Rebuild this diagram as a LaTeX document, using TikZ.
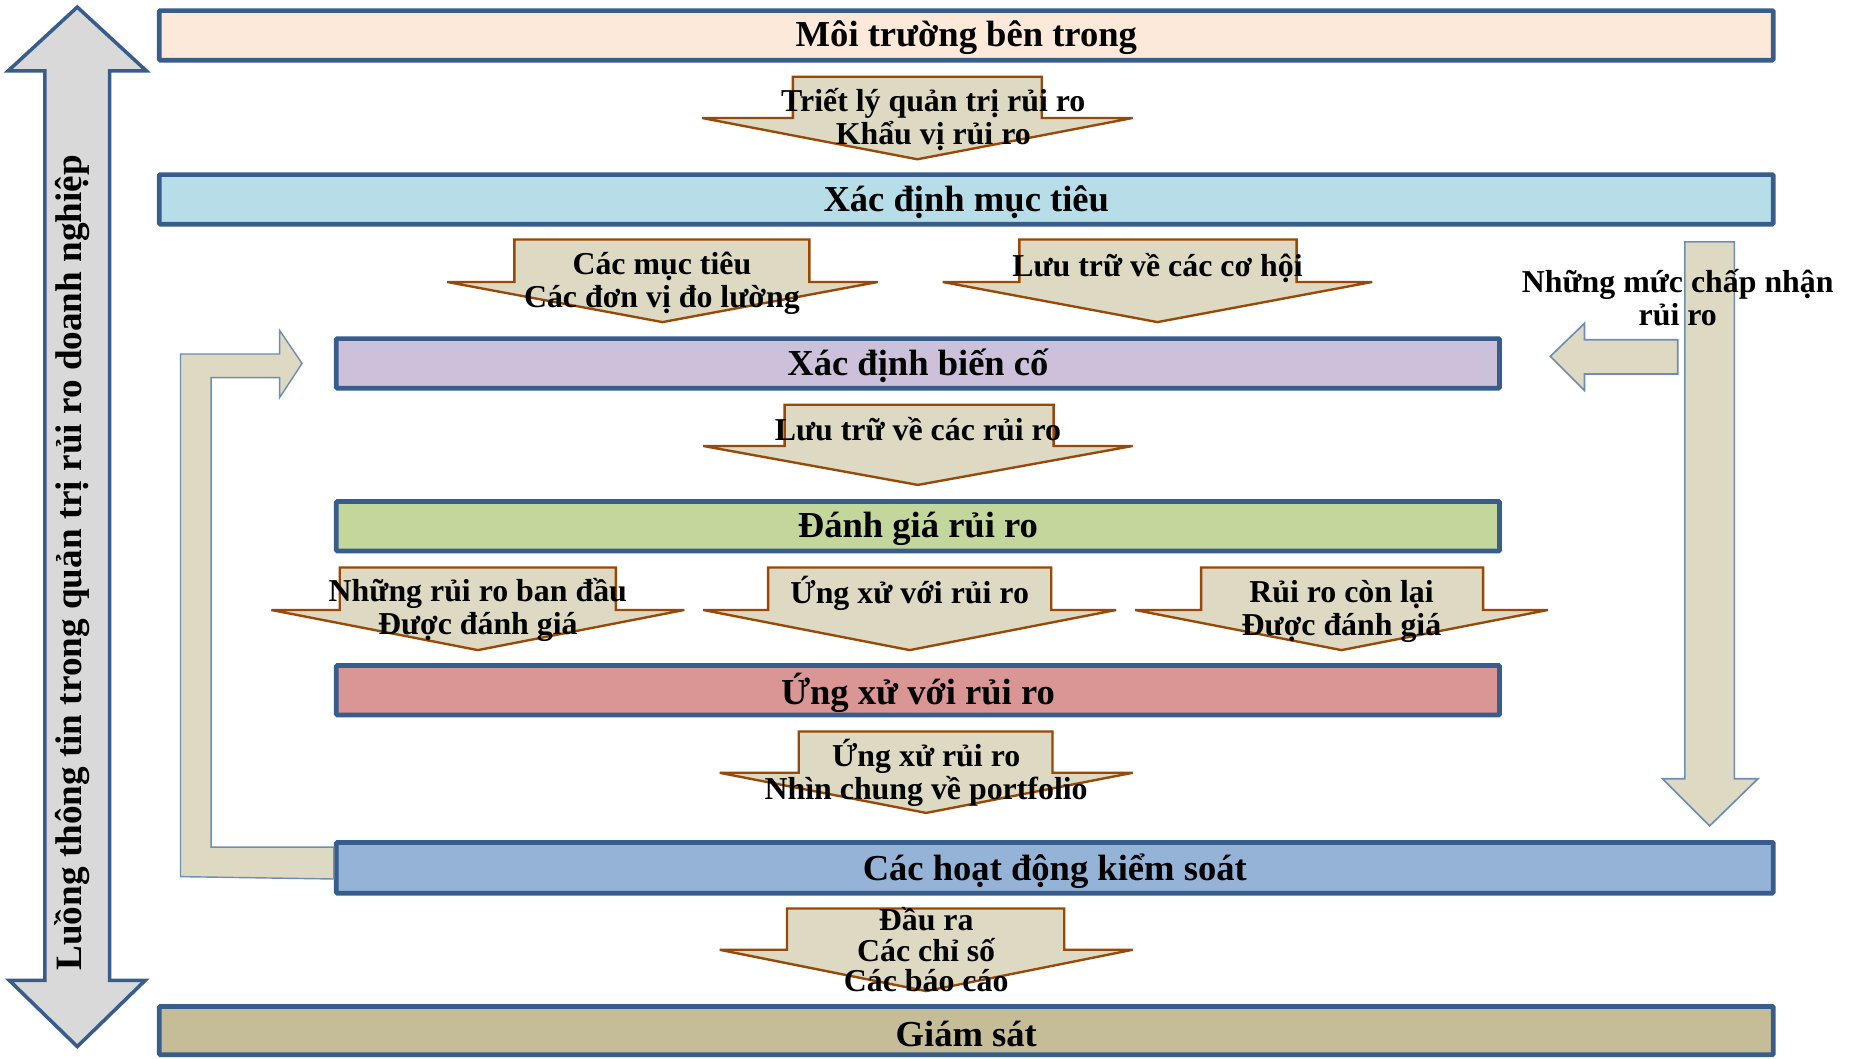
\documentclass[tikz,border=0pt]{standalone}
\usepackage{fontspec}
\setmainfont{Liberation Serif}
\definecolor{edgeblue}{HTML}{385D8A}
\definecolor{softedge}{HTML}{6E8DB5}
\definecolor{arrowfill}{HTML}{DDD9C3}
\definecolor{arrowedge}{HTML}{984807}
\definecolor{peach}{HTML}{FDE9D9}
\definecolor{skyfill}{HTML}{B7DDE8}
\definecolor{lilac}{HTML}{CCC0DA}
\definecolor{leaf}{HTML}{C3D69B}
\definecolor{rose}{HTML}{D99694}
\definecolor{steel}{HTML}{95B3D7}
\definecolor{khaki}{HTML}{C4BD97}
\definecolor{greyfill}{HTML}{D9D9D9}
% block arrow pointing down: shaft left, shaft right, head left, head right, top, head base, tip
\newcommand\dropshape[7]{%
  \draw[flowarrow] (#1,#5) -- (#2,#5) -- (#2,#6) -- (#4,#6) -- ({(#3+#4)/2},#7)
    -- (#3,#6) -- (#1,#6) -- cycle;}
% stage bar: left, right, top, bottom (outer edges)
\newcommand\stagebar[5]{%
  \draw[stagebox,fill=#5] ({#1+2},{#3+2}) rectangle ({#2-2},{#4-2});}
\begin{document}
\begin{tikzpicture}[x=1pt,y=-1pt,
  flowarrow/.style={draw=arrowedge,fill=arrowfill,line width=2pt,line join=miter},
  sidearrow/.style={draw=softedge,fill=arrowfill,line width=1.4pt,line join=miter},
  stagebox/.style={draw=edgeblue,line width=4pt,rounded corners=1pt},
  title/.style={inner sep=0pt,font=\fontsize{31}{33}\selectfont\bfseries},
  label/.style={inner sep=0pt,align=center,font=\fontsize{27}{28}\selectfont\bfseries}]
\useasboundingbox (0,0) rectangle (1568,897);

% two-headed information arrow on the left
\draw[draw=edgeblue,fill=greyfill,line width=3pt,line join=miter]
  (65.5,6) -- (124,60) -- (93,60) -- (93,831) -- (123,831) -- (65.5,887)
  -- (8,831) -- (38,831) -- (38,60) -- (7,60) -- cycle;
\node[title,rotate=90,font=\fontsize{31.5}{33}\selectfont\bfseries] (flow) at (61,477)
  {Luồng thông tin trong quản trị rủi ro doanh nghiệp};

% stage bars
\stagebar{133}{1505}{7}{53}{peach}
\node[title] (env) at (819,32) {Môi trường bên trong};
\stagebar{133}{1505}{146}{192}{skyfill}
\node[title] (obj) at (819,171) {Xác định mục tiêu};
\stagebar{283}{1273}{285}{331}{lilac}
\node[title] (evt) at (778,310) {Xác định biến cố};
\stagebar{283}{1273}{423}{469}{leaf}
\node[title] (assess) at (778,448) {Đánh giá rủi ro};
\stagebar{283}{1273}{562}{608}{rose}
\node[title] (resp) at (778,587) {Ứng xử với rủi ro};
\stagebar{283}{1505}{712}{759}{steel}
\node[title] (ctrl) at (894,738) {Các hoạt động kiểm soát};
\stagebar{133}{1505}{851}{896}{khaki}
\node[title] (mon) at (819,876) {Giám sát};

% feedback arrow from control activities back to event identification
\draw[draw=softedge,fill=arrowfill,line width=1.2pt,line join=miter]
  (153,743) -- (153,300) -- (237,300) -- (237,280) -- (256,308) -- (237,337)
  -- (237,320) -- (179,320) -- (179,718) -- (283,718) -- (283,745) -- cycle;

% risk tolerance arrows on the right
\draw[sidearrow] (1428,205) -- (1470,205) -- (1470,660) -- (1490,660) -- (1449,700)
  -- (1409,660) -- (1428,660) -- cycle;
\draw[sidearrow] (1422,288) -- (1422,317) -- (1343,317) -- (1343,331) -- (1314,302)
  -- (1343,274) -- (1343,288) -- cycle;
\node[label] (tol) at (1422,252) {Những mức chấp nhận\\rủi ro};

% flow arrows between stages
\dropshape{672}{883}{595}{960}{65}{100}{135}
\node[label] (phil) at (791,101) {Triết lý quản trị rủi ro\\Khẩu vị rủi ro};
\dropshape{436}{686}{379}{744}{203}{239}{273}
\node[label] (goals) at (561,240) {Các mục tiêu\\Các đơn vị đo lường};
\dropshape{864}{1099}{799}{1163}{203}{239}{273}
\node[label] (opp) at (981,227) {Lưu trữ về các cơ hội};
\dropshape{665}{893}{596}{960}{343}{378}{411}
\node[label] (risks) at (778,364) {Lưu trữ về các rủi ro};
\dropshape{288}{522}{230}{580}{481}{517}{551}
\node[label] (inh) at (405,517) {Những rủi ro ban đầu\\Được đánh giá};
\dropshape{651}{891}{596}{946}{481}{517}{551}
\node[label] (resp2) at (771,503) {Ứng xử với rủi ro};
\dropshape{1018}{1257}{962}{1312}{481}{517}{551}
\node[label] (resid) at (1137,518) {Rủi ro còn lại\\Được đánh giá};
\dropshape{677}{892}{610}{960}{620}{655}{689}
\node[label] (port) at (785,655) {Ứng xử rủi ro\\Nhìn chung về portfolio};
\dropshape{667}{902}{610}{960}{770}{805}{840}
\node[label,font=\fontsize{27}{26}\selectfont\bfseries] (out) at (785,805) {Đầu ra\\Các chỉ số\\Các báo cáo};
\end{tikzpicture}
\end{document}
